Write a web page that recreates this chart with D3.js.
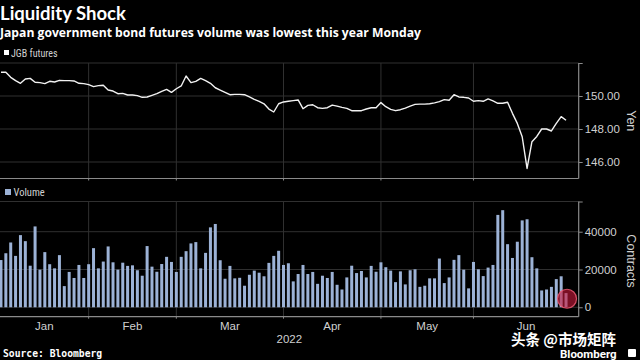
<!DOCTYPE html>
<html>
<head>
<meta charset="utf-8">
<script src="https://cdn.jsdelivr.net/npm/d3@7"></script>
<style>
  html, body { margin: 0; padding: 0; background: #000; }
  svg { display: block; }
</style>
</head>
<body>
<svg id="chart" width="640" height="360"></svg>
<script>
// ---------------- DATA ----------------
const title = "Liquidity Shock";
const subtitle = "Japan government bond futures volume was lowest this year Monday";
const source = "Source: Bloomberg";
const months = ["Jan", "Feb", "Mar", "Apr", "May", "Jun"];
const monthBoundaryIdx = [18, 36, 58, 78, 97];   // first trading day index of Feb..Jun
const yearLabel = "2022";
const priceTicks = [146, 148, 150];
const priceTickLabels = ["146.00", "148.00", "150.00"];
const volumeTicks = [0, 20000, 40000];
const volumeTickLabels = ["0", "20000", "40000"];

const price = [
  151.44, 151.44, 151.13, 150.93, 150.77, 151.03, 151.07, 150.83, 150.81, 150.75,
  150.89, 150.85, 150.95, 150.93, 150.93, 150.91, 150.77, 150.75, 150.69, 150.57,
  150.63, 150.65, 150.36, 150.30, 150.14, 150.16, 150.06, 150.06, 150.02, 149.92,
  149.94, 150.04, 150.14, 150.28, 150.40, 150.22, 150.44, 150.61, 151.21, 150.81,
  150.89, 151.07, 150.93, 150.77, 150.50, 150.36, 150.22, 150.08, 150.10, 150.10,
  150.08, 149.94, 149.80, 149.68, 149.53, 149.21, 149.03, 149.53, 149.64, 149.68,
  149.72, 149.76, 149.23, 149.43, 149.47, 149.29, 149.25, 149.29, 149.45, 149.39,
  149.31, 149.25, 149.11, 149.11, 149.11, 149.21, 149.29, 149.29, 149.60, 149.35,
  149.19, 149.11, 149.17, 149.27, 149.39, 149.49, 149.51, 149.51, 149.53, 149.58,
  149.66, 149.78, 149.74, 150.08, 149.94, 149.92, 149.88, 149.68, 149.72, 149.68,
  149.82, 149.70, 149.56, 149.56, 149.62, 148.95, 148.34, 147.53, 145.61, 147.23,
  147.55, 148.00, 148.00, 147.88, 148.34, 148.75, 148.53
];

const volume = [
  25000, 28600, 34300, 27200, 38200, 35000, 22000, 42800, 19900, 29200,
  22800, 20600, 27600, 11200, 18700, 15500, 22400, 15500, 22800, 31300,
  20600, 24200, 32200, 23800, 19900, 23600, 21900, 22200, 19600, 16700,
  32400, 21500, 18800, 22900, 26700, 24000, 18700, 26700, 29700, 33800,
  34500, 20600, 28800, 42300, 44100, 24900, 15100, 21900, 15300, 15600,
  11400, 17200, 19400, 18300, 16400, 23500, 27200, 29900, 22400, 23300,
  13700, 17600, 22400, 17600, 18700, 12400, 16700, 15500, 18700, 11900,
  9400, 15800, 22000, 18100, 19200, 15800, 21900, 18800, 23800, 21200,
  19400, 13300, 19000, 12100, 19600, 20100, 10800, 11400, 15300, 15300,
  25800, 12800, 15800, 25100, 27600, 19900, 10000, 24000, 20100, 16500,
  21000, 22400, 48900, 51400, 33400, 26100, 34700, 46000, 46600, 26500,
  20600, 8900, 9400, 10800, 14900, 16400, 7500
];
const highlightIdx = 116;

// ---------------- LAYOUT ----------------
const svg = d3.select("#chart");
const W = 640, H = 360;
const plotLeft = 0, plotRight = 578.7;
const pTop = 63, pBottom = 178.5;     // price panel
const vTop = 201.5, vBottom = 316.7;  // volume panel

const gridColor = "#303030";
const axisColor = "#8a8a8a";
const textColor = "#d0d0d0";
const barColor = "#9cb2d6";
const baseFont = "'Liberation Sans', Arial, sans-serif";

svg.append("rect").attr("width", W).attr("height", H).attr("fill", "#000");

const x = d3.scaleLinear().domain([-0.2, 118.6]).range([plotLeft, plotRight]);
const yP = d3.scaleLinear().domain([145, 152]).range([pBottom, pTop]);
const yV = d3.scaleLinear().domain([-5000, 56000]).range([vBottom, vTop]);

// fit a text to a target width by adjusting font size
function fitWidth(sel, target) {
  const fs = parseFloat(sel.attr("font-size"));
  const w = sel.node().getComputedTextLength();
  if (w > 0) sel.attr("font-size", (fs * target / w).toFixed(2));
}

// ---------------- TITLES ----------------
const tt = svg.append("text").attr("x", 0).attr("y", 20)
  .attr("font-family", "Lato, 'Open Sans', sans-serif").attr("font-weight", 700)
  .attr("font-size", 18.5).attr("fill", "#fff").text(title);
fitWidth(tt, 126);
const st = svg.append("text").attr("x", 0).attr("y", 36.5)
  .attr("font-family", "'Open Sans', Roboto, sans-serif").attr("font-weight", 700)
  .attr("font-size", 12).attr("fill", "#fff").text(subtitle);
fitWidth(st, 421);

// legends
svg.append("rect").attr("x", 4).attr("y", 50).attr("width", 5).attr("height", 5).attr("fill", "#fff");
svg.append("text").attr("x", 11).attr("y", 56.5)
  .attr("font-family", "'Liberation Sans Narrow', 'Roboto Condensed', Arial, sans-serif")
  .attr("font-size", 10).attr("fill", textColor).text("JGB futures");
svg.append("rect").attr("x", 5).attr("y", 189).attr("width", 6).attr("height", 6).attr("fill", barColor);
svg.append("text").attr("x", 13.5).attr("y", 195.5)
  .attr("font-family", "'Liberation Sans Narrow', 'Roboto Condensed', Arial, sans-serif")
  .attr("font-size", 10.5).attr("fill", textColor).text("Volume");

// ---------------- GRIDS ----------------
function panelGrid(yScale, ticks, top, bottom, domainTop) {
  const g = svg.append("g");
  g.selectAll("line.h").data(ticks.concat([domainTop])).enter().append("line")
    .attr("x1", plotLeft).attr("x2", plotRight)
    .attr("y1", d => yScale(d)).attr("y2", d => yScale(d))
    .attr("stroke", gridColor).attr("stroke-width", 1);
  g.selectAll("line.v").data(monthBoundaryIdx).enter().append("line")
    .attr("x1", d => x(d)).attr("x2", d => x(d))
    .attr("y1", top).attr("y2", bottom)
    .attr("stroke", gridColor).attr("stroke-width", 1);
  g.append("line").attr("x1", plotLeft).attr("x2", plotRight)
    .attr("y1", bottom).attr("y2", bottom)
    .attr("stroke", axisColor).attr("stroke-width", 1.2);
  g.selectAll("line.t").data(monthBoundaryIdx).enter().append("line")
    .attr("x1", d => x(d)).attr("x2", d => x(d))
    .attr("y1", bottom).attr("y2", bottom + 2)
    .attr("stroke", axisColor).attr("stroke-width", 1);
}
panelGrid(yP, priceTicks, pTop, pBottom, 152);
panelGrid(yV, volumeTicks, vTop, vBottom, 56000);

// ---------------- VOLUME BARS ----------------
const barW = 3;
svg.append("g").selectAll("rect").data(volume).enter().append("rect")
  .attr("x", (d, i) => x(i) - barW / 2)
  .attr("y", d => yV(d))
  .attr("width", barW)
  .attr("height", d => yV(0) - yV(d))
  .attr("fill", barColor);

// highlight circle
svg.append("circle")
  .attr("cx", x(highlightIdx) + 1).attr("cy", yV(0) - 8.5).attr("r", 9.5)
  .attr("fill", "rgba(205,25,60,0.6)")
  .attr("stroke", "rgba(235,90,115,0.85)").attr("stroke-width", 1.2);

// ---------------- PRICE LINE ----------------
const line = d3.line().x((d, i) => x(i)).y(d => yP(d));
svg.append("path").datum(price).attr("d", line)
  .attr("fill", "none").attr("stroke", "#f2f2f2").attr("stroke-width", 1.4)
  .attr("stroke-linejoin", "round");

// ---------------- RIGHT AXES ----------------
const axP = d3.axisRight(yP).tickValues(priceTicks.concat([152]))
  .tickFormat(d => { const k = priceTicks.indexOf(d); return k >= 0 ? priceTickLabels[k] : ""; })
  .tickSize(4).tickPadding(2);
const axV = d3.axisRight(yV).tickValues(volumeTicks.concat([56000]))
  .tickFormat(d => { const k = volumeTicks.indexOf(d); return k >= 0 ? volumeTickLabels[k] : ""; })
  .tickSize(4).tickPadding(2);

function styleAxis(g) {
  g.select(".domain").attr("stroke", axisColor).attr("stroke-width", 1.2);
  g.selectAll(".tick line").attr("stroke", axisColor);
  g.selectAll(".tick text").attr("fill", textColor)
    .attr("font-family", baseFont).attr("font-size", 11.5);
}
svg.append("g").attr("transform", `translate(${plotRight},0)`).call(axP).call(styleAxis)
  .select(".domain").attr("d", `M0,${pTop}V${pBottom}`);
svg.append("g").attr("transform", `translate(${plotRight},0)`).call(axV).call(styleAxis)
  .select(".domain").attr("d", `M0,${vTop}V${vBottom}`);

svg.append("text").attr("transform", `translate(627,${(pTop + pBottom) / 2})rotate(90)`)
  .attr("text-anchor", "middle").attr("font-family", baseFont).attr("font-size", 12.5)
  .attr("fill", textColor).text("Yen");
svg.append("text").attr("transform", `translate(627,${(vTop + vBottom) / 2 + 2})rotate(90)`)
  .attr("text-anchor", "middle").attr("font-family", baseFont).attr("font-size", 12.5)
  .attr("fill", textColor).text("Contracts");

// ---------------- MONTH LABELS ----------------
const bounds = [plotLeft].concat(monthBoundaryIdx.map(d => x(d))).concat([plotRight]);
svg.append("g").selectAll("text").data(months).enter().append("text")
  .attr("x", (d, i) => (bounds[i] + bounds[i + 1]) / 2)
  .attr("y", 329.5).attr("text-anchor", "middle")
  .attr("font-family", baseFont).attr("font-size", 11.5).attr("fill", textColor)
  .text(d => d);
svg.append("text").attr("x", (plotLeft + plotRight) / 2).attr("y", 342.5)
  .attr("text-anchor", "middle").attr("font-family", baseFont).attr("font-size", 11.5)
  .attr("fill", textColor).text(yearLabel);

// source
svg.append("text").attr("x", 3).attr("y", 356.5)
  .attr("font-family", "'DejaVu Sans Mono', monospace").attr("font-weight", 700)
  .attr("font-size", 9.7).attr("fill", "#fff").text(source);

// watermark
svg.append("text").attr("x", 511).attr("y", 345)
  .attr("font-family", "'Noto Sans CJK SC', sans-serif").attr("font-weight", 700)
  .attr("font-size", 14.5).attr("fill", "#fff").text("头条 @市场矩阵");
svg.append("text").attr("x", 560).attr("y", 358)
  .attr("font-family", "Roboto, Arial, sans-serif").attr("font-weight", 700)
  .attr("font-size", 11.5).attr("fill", "#fff").text("Bloomberg");
svg.append("rect").attr("x", 628).attr("y", 349).attr("width", 8).attr("height", 8)
  .attr("fill", "#fff").attr("rx", 1);
</script>
</body>
</html>
